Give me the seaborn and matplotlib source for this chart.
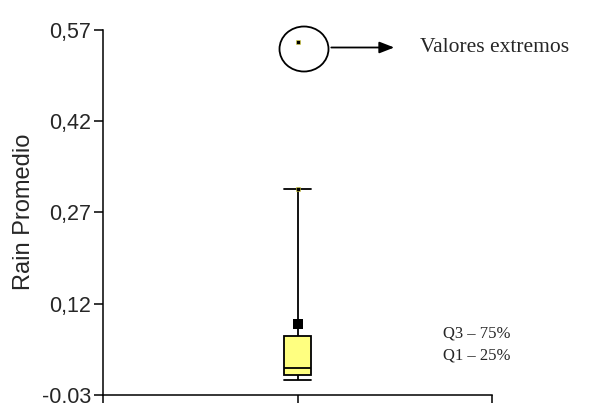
import matplotlib
matplotlib.use("Agg")
import matplotlib.pyplot as plt
from matplotlib.patches import Ellipse
import seaborn as sns
import pandas as pd

# box summary (whisker low, Q1, median, Q3, whisker high)
box_values = [-0.005, 0.003, 0.015, 0.067, 0.308]
mean_value = [0.087]
extreme_values = [0.549]
ytick_values = [-0.03, 0.12, 0.27, 0.42, 0.57]
ytick_labels = ["-0,03", "0,12", "0,27", "0,42", "0,57"]

sns.set_style("ticks")
plt.rcParams["font.family"] = ["Liberation Sans", "DejaVu Sans"]

W, H = 589, 403
fig = plt.figure(figsize=(W / 100, H / 100), dpi=100)
ax = fig.add_axes([103 / W, 1 - 395 / H, (492 - 103) / W, (395 - 29.5) / H])

df = pd.DataFrame({"grupo": [""] * len(box_values), "rain": box_values})
box_w = 0.07
sns.boxplot(data=df, x="grupo", y="rain", ax=ax, whis=(0, 100), width=box_w,
            color="#FFFF80", saturation=1, linecolor="black", linewidth=1.3,
            capwidths=box_w, showfliers=False)

# mean marker and extreme values
sns.scatterplot(x=[0] * len(mean_value), y=mean_value, ax=ax, marker="s",
                s=45, color="black", linewidth=0, zorder=5)
sns.scatterplot(x=[0, 0], y=[box_values[-1]] + extreme_values, ax=ax, marker="s",
                s=5, color="black", edgecolor="#E8E040", linewidth=0.4, zorder=5)

ax.set_xlim(-0.5, 0.5)
ax.set_ylim(-0.03, 0.57)
ax.set_yticks(ytick_values)
ax.set_yticklabels(ytick_labels, fontsize=15.5)
ax.set_xticks([-0.5, 0, 0.5])
ax.set_xticklabels([])
ax.set_xlabel("")
ax.set_ylabel("Rain Promedio", fontsize=17)
ax.yaxis.set_label_coords(-0.175, 0.5)
ax.tick_params(axis="both", direction="out", length=6.5, width=1.1,
               color="black", pad=2)
for side in ["left", "bottom"]:
    ax.spines[side].set_linewidth(1.1)
    ax.spines[side].set_color("black")
sns.despine(ax=ax)

# legend-like annotation for the extreme values
fig.add_artist(Ellipse((304 / W, 1 - 49 / H), width=49 / W, height=45 / H,
                       transform=fig.transFigure, fill=False,
                       edgecolor="black", linewidth=1.3))
ax.annotate("", xy=(397 / W, 1 - 47.5 / H), xytext=(328.5 / W, 1 - 47.5 / H),
            xycoords="figure fraction", textcoords="figure fraction",
            arrowprops=dict(arrowstyle="-|>,head_length=0.9,head_width=0.35",
                            color="black", lw=1.3))
serif = ["Liberation Serif", "DejaVu Serif"]
fig.text(420 / W, 1 - 48 / H, "Valores extremos", family=serif, fontsize=15.5,
         ha="left", va="center")
fig.text(443 / W, 1 - 333 / H, "Q3 \u2013 75%", family=serif, fontsize=12,
         ha="left", va="center")
fig.text(443 / W, 1 - 356 / H, "Q1 \u2013 25%", family=serif, fontsize=12,
         ha="left", va="center")

fig.savefig("out.png", dpi=100)
